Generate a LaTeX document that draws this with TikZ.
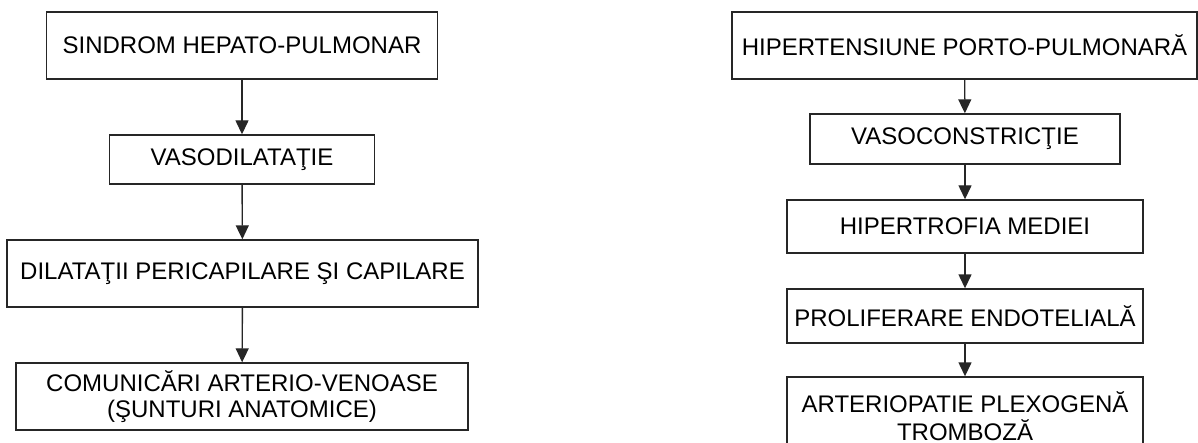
\documentclass[tikz,border=0pt]{standalone}
\usepackage{fontspec}
\setmainfont{Liberation Sans}
\usetikzlibrary{arrows.meta}

\tikzset{
  blok/.style={draw=black!85, line width=0.7pt, inner sep=0pt, align=center,
    text=black, font=\fontsize{12}{14}\selectfont},
  arr/.style={draw=black!85, line width=0.7pt, -{Triangle[length=7pt,width=6.5pt]}}
}

\begin{document}
\begin{tikzpicture}[x=0.5pt, y=-0.5pt]
  \clip (0,0) rectangle (1198,443);

  % left column
  \node[blok, minimum width=195.5pt, minimum height=33.5pt] (shp) at (242,45.5) {SINDROM HEPATO-PULMONAR};
  \node[blok, minimum width=132.5pt, minimum height=24.5pt] (vasodil) at (242,159.5) {VASODILATAŢIE};
  \node[blok, minimum width=235.5pt, minimum height=33.5pt] (dilat) at (242.5,273.5) {DILATAŢII PERICAPILARE ŞI CAPILARE};
  \node[blok, minimum width=226pt, minimum height=33.5pt, font=\fontsize{12}{13}\selectfont] (comun) at (242,396.5) {COMUNICĂRI ARTERIO-VENOASE\\(ŞUNTURI ANATOMICE)};

  \draw[arr] (shp) to (vasodil);
  \draw[arr] (vasodil) to (dilat);
  \draw[arr] (dilat) to (comun);

  % right column
  \node[blok, minimum width=232.5pt, minimum height=33.5pt] (hpp) at (964.5,45.5) {HIPERTENSIUNE PORTO-PULMONARĂ};
  \node[blok, minimum width=155pt, minimum height=25pt] (vasocon) at (965,139) {VASOCONSTRICŢIE};
  \node[blok, minimum width=178pt, minimum height=26.5pt] (hipertr) at (965,226.5) {HIPERTROFIA MEDIEI};
  \node[blok, minimum width=178pt, minimum height=27pt] (prolif) at (965,316) {PROLIFERARE ENDOTELIALĂ};
  \node[blok, minimum width=178pt, minimum height=39pt] (arter) at (965,416) {ARTERIOPATIE PLEXOGENĂ\\TROMBOZĂ};

  \draw[arr] (hpp) to (vasocon);
  \draw[arr] (vasocon) to (hipertr);
  \draw[arr] (hipertr) to (prolif);
  \draw[arr] (prolif) to (arter);
\end{tikzpicture}
\end{document}
